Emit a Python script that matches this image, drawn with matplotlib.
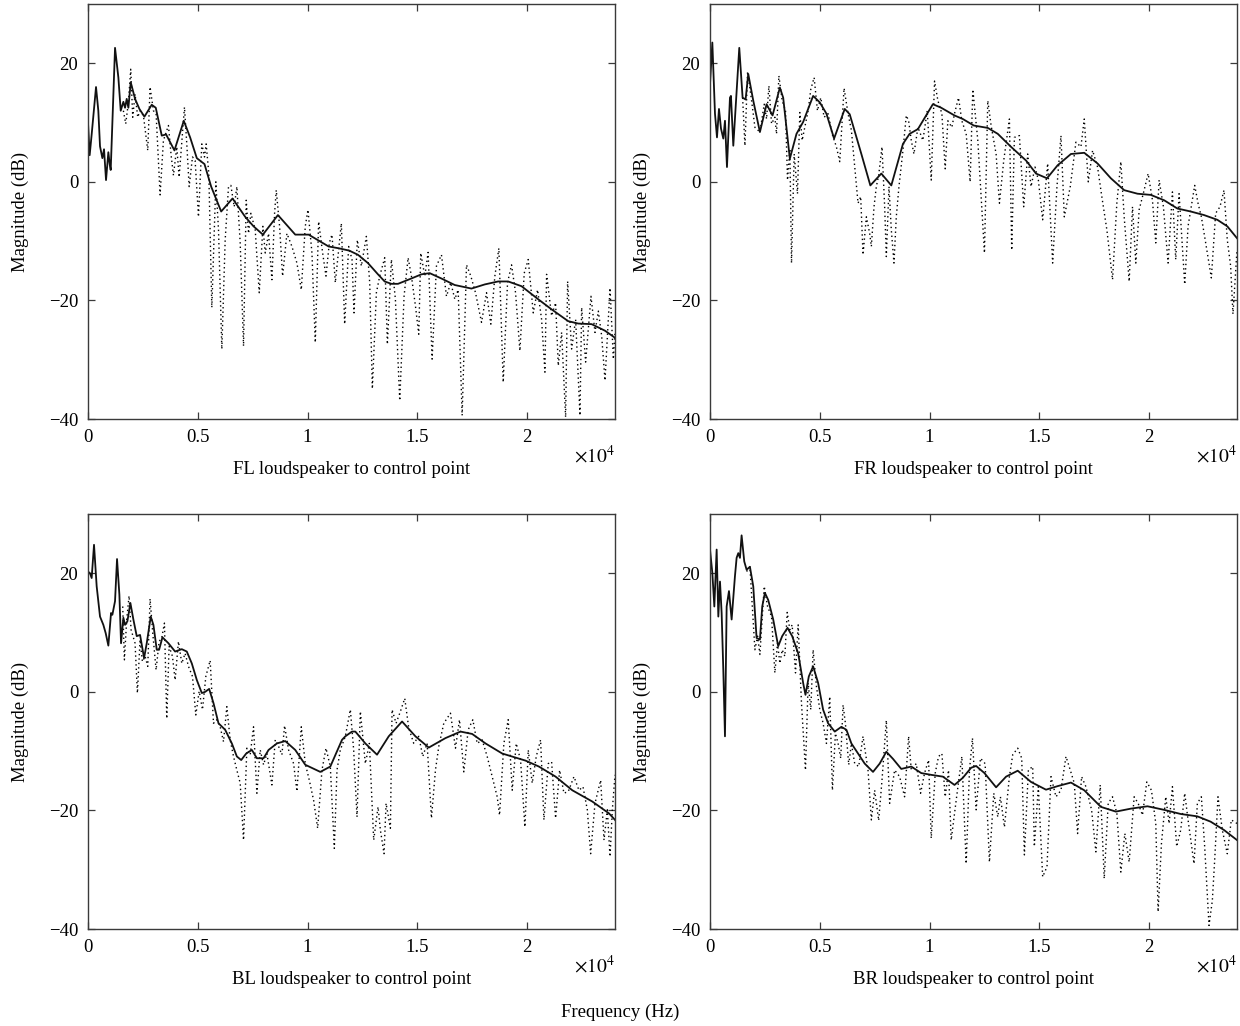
import matplotlib
matplotlib.use("Agg")
import matplotlib.pyplot as plt

plt.rcParams['font.family'] = ['Liberation Serif', 'DejaVu Serif']
plt.rcParams['mathtext.fontset'] = 'stix'

# ---------------- FL ----------------
fl_solid_f = [0, 76, 167, 365, 470, 547, 654, 730, 821, 927, 988, 1034, 1231, 1383, 1490, 1611, 1687, 1763, 1839,
              1946, 2143, 2341, 2569, 2903, 3086, 3359, 3557, 3937, 4362, 4651, 4955, 5305, 5609, 6065, 6582,
              7159, 7539, 7965, 8649, 9439, 10047, 10959, 11415, 11900, 12294, 12750, 13206, 13510, 13814,
              14118, 14726, 15182, 15562, 16094, 16702, 17462, 18070, 18678, 19134, 19742, 20502, 21110,
              21870, 22326, 22934, 23542, 24000]
fl_solid_db = [10, 4.5, 8, 16, 12, 6, 4, 5.5, 0.3, 5, 3, 2, 22.6, 17.6, 12, 13.5, 12.5, 14, 12.5,
               16.8, 14, 12.3, 11, 13, 12.5, 7.8, 8, 5.3, 10.3, 7.5, 4, 3, -0.8, -5, -2.8,
               -5.9, -7.5, -8.9, -5.6, -8.9, -8.9, -10.9, -11.2, -11.6, -12.3, -13.7, -15.6, -16.8, -17.2,
               -17.2, -16.3, -15.6, -15.4, -16.3, -17.4, -18.0, -17.3, -16.8, -16.8, -17.6, -19.8, -21.5,
               -23.5, -23.9, -24.0, -25.1, -26.3]
fl_dot_f = [1611, 1718, 1839, 1946, 2037, 2143, 2265, 2371, 2523, 2721, 2827, 2979, 3101, 3283, 3435, 3663, 3785,
            3891, 4043, 4150, 4393, 4499, 4606, 4758, 4879, 5031, 5183, 5305, 5381, 5502, 5639, 5822, 5943, 6095,
            6247, 6399, 6506, 6658, 6779, 6931, 7083, 7205, 7311, 7418, 7615, 7798, 7965, 8071, 8223, 8375, 8497,
            8573, 8725, 8862, 9059, 9287, 9515, 9713, 9895, 10017, 10199, 10351, 10503, 10686, 10838, 10990,
            11111, 11263, 11415, 11537, 11689, 11871, 12023, 12114, 12266, 12449, 12677, 12829, 12950, 13133,
            13285, 13513, 13634, 13817, 13999, 14197, 14394, 14577, 14729, 14911, 15063, 15154, 15337, 15489,
            15671, 15869, 16097, 16325, 16522, 16705, 16857, 17039, 17237, 17434, 17647, 17921, 18149, 18346,
            18529, 18711, 18909, 19106, 19289, 19471, 19669, 19866, 20049, 20277, 20474, 20657, 20809, 20885,
            21113, 21295, 21417, 21569, 21751, 21842, 22025, 22207, 22405, 22481, 22663, 22906, 23089, 23241,
            23393, 23545, 23773, 23925, 24000]
fl_dot_db = [12.0, 9.8, 13.4, 19.0, 10.9, 14.8, 10.9, 12.0, 11.2, 5.3, 16.0, 12.0, 11.5, -2.2, 7.0, 9.5, 4.5,
             1.1, 5.9, 0.8, 12.6, 6.4, -0.8, 4.2, 3.6, -5.9, 6.4, 4.2, 6.4, 1.4, -21.2, 0.0, -8.1, -28.2,
             -9.8, -0.8, -0.6, -4.2, -0.8, -10.3, -27.7, -3.1, -8.7, -5.3, -8.1, -18.7, -7.5, -12.0, -8.7, -16.5, -5.3,
             -1.4, -7.5, -15.9, -8.7, -10.9, -13.7, -18.2, -7.5, -4.7, -12.0, -27.1, -6.7, -12.0, -15.9, -10.3,
             -8.9, -17.0, -11.5, -7.0, -24.0, -10.9, -13.1, -22.1, -9.8, -14.2, -9.2, -17.0, -34.9, -18.7,
             -15.9, -12.8, -27.4, -13.1, -19.8, -36.9, -19.3, -12.8, -15.9, -20.9, -25.7, -12.0, -15.9, -11.9,
             -29.9, -14.2, -12.3, -19.3, -17.0, -19.8, -18.2, -39.4, -14.0, -15.9, -18.7, -23.7, -18.7, -24.0,
             -15.9, -11.2, -33.8, -17.0, -14.0, -18.7, -28.5, -15.4, -13.1, -22.1, -18.2, -23.2, -32.1, -15.6,
             -22.6, -20.4, -31.0, -25.4, -39.7, -16.8, -28.2, -23.2, -39.4, -21.2, -30.4, -19.3, -25.4, -21.8,
             -26.0, -33.5, -17.9, -29.9, -25.4]

# ---------------- FR ----------------
fr_solid_f = [0, 106, 227, 318, 409, 500, 606, 682, 773, 909, 954, 1061, 1333, 1485, 1621, 1742, 1970, 2273,
              2576, 2848, 3182, 3333, 3636, 3939, 4242, 4697, 5000, 5303, 5651, 6136, 6363, 6893, 7302, 7802,
              8257, 8787, 9090, 9469, 10150, 10529, 11135, 11514, 12014, 12650, 13105, 13711, 14393, 14847,
              15347, 15832, 16438, 17044, 17650, 18256, 18862, 19468, 20074, 20680, 21286, 21892, 22498,
              23104, 23558, 24000]
fr_solid_db = [16.5, 23.5, 11.5, 7.5, 12.3, 9.0, 7.3, 10.3, 2.5, 14.2, 14.5, 6.1, 22.6, 14.2, 13.9, 18.2, 13.7, 8.4,
               13.1, 11.2, 15.9, 14.2, 3.9, 8.1, 10.1, 14.5, 13.4, 11.5, 7.3, 12.3, 11.4, 4.7, -0.6, 1.4,
               -0.6, 6.4, 8.1, 8.9, 13.1, 12.5, 11.2, 10.6, 9.5, 9.1, 8.1, 5.9, 3.6, 1.4,
               0.6, 2.8, 4.7, 4.9, 3.1, 0.6, -1.4, -2.0, -2.2, -3.1, -4.5, -5.0, -5.6,
               -6.4, -7.5, -9.5]
fr_dot_f = [1485, 1591, 1712, 1894, 2045, 2273, 2469, 2576, 2682, 2803, 2954, 3030, 3136, 3288, 3439, 3530, 3636,
            3712, 3833, 3984, 4091, 4197, 4318, 4469, 4590, 4742, 4893, 5045, 5196, 5378, 5560, 5757, 5909, 6105,
            6287, 6439, 6621, 6742, 6863, 6969, 7121, 7272, 7348, 7469, 7575, 7681, 7833, 7954, 8030, 8151, 8257,
            8378, 8484, 8605, 8787, 8939, 9045, 9166, 9287, 9469, 9696, 9893, 10075, 10226, 10378, 10560, 10711,
            10832, 11014, 11135, 11317, 11469, 11666, 11847, 11969, 12196, 12317, 12499, 12650, 12802, 13029,
            13181, 13377, 13635, 13741, 13862, 14090, 14286, 14468, 14620, 14802, 14953, 15150, 15377, 15605,
            15801, 15983, 16135, 16407, 16665, 16892, 17044, 17226, 17423, 17650, 17832, 18074, 18332, 18528,
            18710, 18862, 19089, 19241, 19392, 19544, 19771, 19953, 20150, 20301, 20453, 20649, 20862, 21059,
            21210, 21362, 21619, 21771, 22074, 22225, 22377, 22574, 22831, 23028, 23225, 23407, 23558, 23710,
            23816, 24000]
fr_dot_db = [14.2, 6.1, 18.6, 13.7, 9.2, 8.4, 13.1, 10.6, 16.2, 9.8, 10.9, 8.1, 17.9, 13.7, 12.0, 0.3, 5.6,
             -13.7, 4.7, -2.0, 11.7, 7.0, 9.2, 12.0, 15.6, 17.6, 12.0, 14.2, 10.9, 11.5, 8.1, 5.9, 3.4, 15.8,
             11.5, 8.7, 1.4, -3.6, -2.5, -12.3, -5.9, -8.7, -10.9, -4.2, -0.8, 1.1, 5.9, -4.2, -12.6, -0.8, -8.1,
             -13.7, -5.9, -0.8, 5.3, 11.2, 10.3, 7.0, 4.7, 9.2, 7.0, 12.0, 0.3, 17.0, 13.7, 11.5, 2.2,
             10.3, 9.2, 11.5, 14.2, 10.3, 8.1, 0.0, 15.6, 7.0, -0.6, -12.0, 13.7, 9.5, 4.7,
             -3.6, 3.6, 10.6, -11.5, 7.5, 7.8, -4.2, 4.7, -0.8, 2.5, 0.3, -6.4, 3.1, -13.7,
             -0.8, 7.8, -5.9, -0.8, 6.7, 5.9, 10.6, 0.0, 5.3, 2.5, -2.2, -8.1, -16.5, -3.6,
             3.4, -5.9, -16.8, -4.2, -13.7, -4.7, -1.4, 1.4, -3.1, -10.3, 0.3, -4.2, -13.7, -1.7,
             -13.1, -2.0, -17.3, -7.5, -0.6, -3.6, -5.9, -10.3, -16.2, -5.3, -4.2, -1.4, -9.8, -14.2,
             -22.3, -11.5]

# ---------------- BL ----------------
bl_solid_f = [0, 91, 167, 274, 395, 547, 699, 806, 927, 1049, 1110, 1231, 1322, 1429, 1505, 1611, 1687, 1794,
              1930, 2067, 2219, 2371, 2554, 2675, 2858, 2979, 3131, 3238, 3390, 3663, 3967, 4271, 4499, 4727,
              4955, 5183, 5335, 5518, 5715, 5943, 6247, 6551, 6779, 6977, 7205, 7463, 7691, 7995, 8223, 8603,
              8983, 9439, 9895, 10579, 11035, 11567, 11719, 12023, 12175, 12631, 13163, 13695, 14303, 14911,
              15519, 16279, 16963, 17495, 18103, 18863, 19927, 20535, 21295, 22055, 22967, 23727, 24000]
bl_solid_db = [20.3, 20.0, 19.2, 24.8, 17.8, 12.7, 11.3, 9.9, 7.8, 13.3, 13.0, 15.3, 22.4, 16.4, 8.2, 12.5, 11.3, 11.9,
               15.0, 12.2, 9.4, 9.6, 5.7, 8.2, 12.7, 11.3, 7.1, 7.1, 9.2, 8.2, 6.8, 7.2, 6.8, 4.8,
               2.0, -0.2, 0.0, 0.5, -1.9, -5.3, -6.4, -8.7, -10.9, -11.5, -10.4, -9.8, -11.2, -11.2, -9.8, -8.7,
               -8.3, -9.8, -12.3, -13.5, -12.6, -8.1, -7.5, -6.7, -6.7, -8.7, -10.6, -7.5, -5.0, -7.5,
               -9.4, -7.8, -6.7, -7.1, -8.7, -10.4, -11.6, -12.6, -14.3, -16.6, -18.5, -20.5, -21.6]
bl_dot_f = [1581, 1657, 1763, 1870, 1961, 2143, 2250, 2371, 2478, 2599, 2721, 2827, 2949, 3101, 3238, 3359, 3481,
            3587, 3694, 3846, 3967, 4119, 4271, 4423, 4575, 4758, 4910, 5062, 5214, 5366, 5563, 5715, 5867, 6019,
            6171, 6323, 6475, 6627, 6779, 6931, 7083, 7235, 7387, 7539, 7691, 7843, 7995, 8147, 8375, 8527, 8679,
            8831, 8953, 9135, 9363, 9515, 9713, 9895, 10078, 10275, 10458, 10655, 10838, 11035, 11218, 11339,
            11491, 11719, 11947, 12099, 12251, 12403, 12631, 12814, 13011, 13209, 13315, 13482, 13574, 13771,
            13847, 14030, 14227, 14425, 14607, 14835, 15063, 15246, 15443, 15641, 15823, 15975, 16203, 16507,
            16735, 16918, 17115, 17313, 17526, 17723, 17951, 18179, 18407, 18635, 18742, 18939, 19137, 19319,
            19502, 19699, 19897, 20049, 20231, 20414, 20611, 20763, 20961, 21113, 21295, 21478, 21675, 21873,
            22131, 22359, 22542, 22739, 22891, 23089, 23347, 23499, 23651, 23773, 23879, 24000]
bl_dot_db = [14.4, 5.4, 12.2, 16.2, 10.5, 8.2, -0.2, 8.8, 5.1, 6.0, 4.3, 15.7, 9.9, 3.7, 8.5, 9.1, 11.6,
             -4.5, 7.7, 6.0, 2.0, 8.5, 4.8, 6.5, 4.3, 2.6, -3.9, 0.1, -3.0, 2.6, 5.3, -5.3, -4.7, -5.9,
             -8.4, -2.5, -8.1, -10.9, -13.2, -15.4, -25.0, -9.5, -10.6, -5.9, -17.1, -9.8, -12.3, -10.4, -15.7, -8.1, -9.2,
             -10.6, -5.7, -9.8, -12.1, -16.8, -5.9, -12.1, -14.9, -18.3, -23.0, -13.2, -9.5, -12.6, -26.4, -13.2,
             -9.8, -7.5, -3.0, -9.8, -21.1, -3.3, -12.1, -8.7, -25.0, -19.4, -23.3, -27.3, -18.8, -23.0,
             -3.0, -5.3, -3.3, -1.1, -6.1, -8.7, -7.5, -10.9, -8.7, -21.3, -13.2, -9.2, -5.3, -3.6,
             -9.5, -4.7, -13.5, -6.4, -4.7, -8.7, -8.1, -10.9, -14.3, -17.7, -20.8, -8.7, -4.7, -16.6,
             -8.7, -11.5, -22.8, -9.8, -15.4, -10.9, -8.1, -21.6, -12.1, -11.8, -21.3, -13.2, -17.1, -16.8,
             -14.3, -16.6, -16.0, -19.9, -27.3, -18.8, -14.9, -25.0, -19.9, -27.8, -19.9, -14.0]

# ---------------- BR ----------------
br_solid_f = [0, 106, 197, 303, 379, 455, 530, 606, 682, 758, 864, 985, 1136, 1212, 1288, 1364, 1439, 1560, 1667,
              1818, 1970, 2121, 2273, 2379, 2500, 2651, 2879, 3106, 3288, 3530, 3742, 4015, 4242, 4348, 4500,
              4697, 4924, 5151, 5378, 5681, 5984, 6212, 6439, 6742, 7045, 7424, 7727, 8030, 8333, 8711, 9166,
              9620, 10075, 10605, 11135, 11514, 11893, 12120, 12499, 13029, 13484, 14014, 14620, 15302, 15832,
              16438, 17044, 17801, 18483, 19165, 19922, 20680, 21437, 22195, 22801, 23407, 24000]
br_solid_db = [24.0, 20.1, 14.4, 24.0, 12.7, 18.6, 13.3, 3.7, -7.5, 14.4, 17.0, 12.2, 19.5, 22.6, 23.4, 22.6, 26.4, 22.0, 20.6,
               21.1, 17.8, 9.1, 8.8, 14.4, 16.7, 15.5, 12.2, 7.7, 9.4, 10.8, 9.4, 6.5, 1.5, -0.5, 2.6,
               4.3, 1.5, -3.0, -5.3, -6.7, -5.9, -6.4, -8.7, -10.4, -12.1, -13.5, -12.1, -10.1, -11.3, -13.0, -12.6,
               -13.7, -14.0, -14.3, -15.7, -14.5, -12.8, -12.5, -13.7, -16.1, -14.3, -13.3, -15.2, -16.5, -15.9,
               -15.3, -16.6, -19.4, -20.2, -19.7, -19.3, -19.9, -20.6, -21.0, -21.9, -23.3, -25.0]
br_dot_f = [1667, 1818, 2045, 2167, 2273, 2469, 2621, 2803, 2954, 3075, 3182, 3288, 3409, 3515, 3636, 3742, 3894,
            4015, 4166, 4348, 4469, 4590, 4697, 4848, 5000, 5151, 5303, 5454, 5575, 5712, 5833, 5954, 6060, 6166,
            6318, 6439, 6590, 6772, 6969, 7196, 7348, 7499, 7681, 7833, 8030, 8181, 8408, 8636, 8863, 9045, 9166,
            9393, 9590, 9772, 9954, 10075, 10257, 10408, 10560, 10711, 10863, 10984, 11211, 11469, 11666, 11817,
            11953, 12120, 12317, 12529, 12726, 12923, 13105, 13226, 13408, 13635, 13787, 14014, 14196, 14317,
            14499, 14696, 14771, 14953, 15150, 15347, 15529, 15756, 15983, 16211, 16407, 16589, 16741, 16923,
            17120, 17377, 17574, 17771, 17953, 18135, 18332, 18528, 18710, 18892, 19089, 19316, 19498, 19695,
            19892, 20104, 20301, 20407, 20559, 20756, 20907, 21059, 21255, 21437, 21619, 21771, 22043, 22195,
            22377, 22528, 22725, 22877, 22983, 23134, 23331, 23558, 23740, 24000]
br_dot_db = [20.3, 21.1, 7.1, 9.4, 6.3, 17.8, 14.4, 12.7, 3.2, 8.2, 4.8, 7.1, 6.0, 13.4, 10.5, 11.3, 3.2,
             11.3, -1.9, -13.2, 1.5, -3.0, 7.1, 0.9, -3.0, -5.3, -8.7, -0.8, -16.6, -7.0, -8.7, -11.2, -2.2, -5.3,
             -12.3, -8.7, -12.1, -12.6, -7.5, -13.2, -21.6, -16.6, -21.7, -14.9, -4.8, -18.8, -13.2, -14.3, -17.7, -7.5, -13.2,
             -12.1, -17.1, -13.7, -11.5, -24.7, -13.7, -10.9, -10.4, -17.7, -13.2, -25.0, -18.3, -10.9, -29.0, -13.2,
             -7.8, -19.9, -11.2, -12.1, -28.7, -17.1, -21.1, -17.7, -22.8, -14.3, -10.6, -9.5, -11.2, -27.5,
             -13.2, -12.6, -26.1, -16.0, -31.2, -29.5, -14.3, -17.7, -16.6, -10.9, -13.2, -15.4, -23.9, -14.3,
             -16.0, -19.9, -27.0, -15.7, -31.5, -18.8, -17.7, -20.5, -30.4, -23.9, -28.7, -17.7, -18.8, -20.8,
             -15.2, -16.6, -22.2, -37.1, -25.6, -17.7, -22.2, -16.0, -26.1, -23.3, -17.1, -21.6, -29.0, -18.8,
             -17.7, -26.1, -39.4, -35.2, -28.4, -17.7, -23.3, -27.3, -21.6, -22.2]

titles = ["FL loudspeaker to control point", "FR loudspeaker to control point",
          "BL loudspeaker to control point", "BR loudspeaker to control point"]
x_ticks = [0, 5000, 10000, 15000, 20000]
x_tick_labels = ["0", "0.5", "1", "1.5", "2"]
y_ticks = [-40, -20, 0, 20]
y_tick_labels = ["\u221240", "\u221220", "0", "20"]

panels = [
    (fl_solid_f, fl_solid_db, fl_dot_f, fl_dot_db),
    (fr_solid_f, fr_solid_db, fr_dot_f, fr_dot_db),
    (bl_solid_f, bl_solid_db, bl_dot_f, bl_dot_db),
    (br_solid_f, br_solid_db, br_dot_f, br_dot_db),
]

W, H = 1240, 1026
fig = plt.figure(figsize=(W / 100, H / 100), dpi=100)

boxes = [(88, 4, 615, 419), (710, 4, 1237, 419), (88, 514, 615, 929), (710, 514, 1237, 929)]
frame_col = "#3a3a3a"
for i, ((sf, sd, df, dd), (x0, y0, x1, y1)) in enumerate(zip(panels, boxes)):
    ax = fig.add_axes([x0 / W, 1 - y1 / H, (x1 - x0) / W, (y1 - y0) / H])
    ax.plot(df, dd, color="black", lw=1.0, linestyle=(0, (1, 2.2)))
    ax.plot(sf, sd, color="#111111", lw=1.3, solid_joinstyle="round")
    ax.set_xlim(0, 24000)
    ax.set_ylim(-40, 30)
    ax.set_xticks(x_ticks)
    ax.set_xticklabels(x_tick_labels)
    ax.set_yticks(y_ticks)
    ax.set_yticklabels(y_tick_labels)
    ax.tick_params(direction="in", top=True, right=True, length=5, width=0.9,
                   labelsize=13.5, color=frame_col, pad=7)
    for sp in ax.spines.values():
        sp.set_color(frame_col)
        sp.set_linewidth(1.0)
    ax.set_ylabel("Magnitude (dB)", fontsize=13.5, labelpad=14)
    ax.set_xlabel(titles[i], fontsize=13.5, labelpad=11)
    ax.text(0.96, -0.088, r"$\times10^{4}$", transform=ax.transAxes, ha="center", va="center",
            fontsize=14)

fig.text(0.5, 1 - 1012 / H, "Frequency (Hz)", ha="center", va="center", fontsize=13.5)

fig.savefig("out.png", dpi=100)
